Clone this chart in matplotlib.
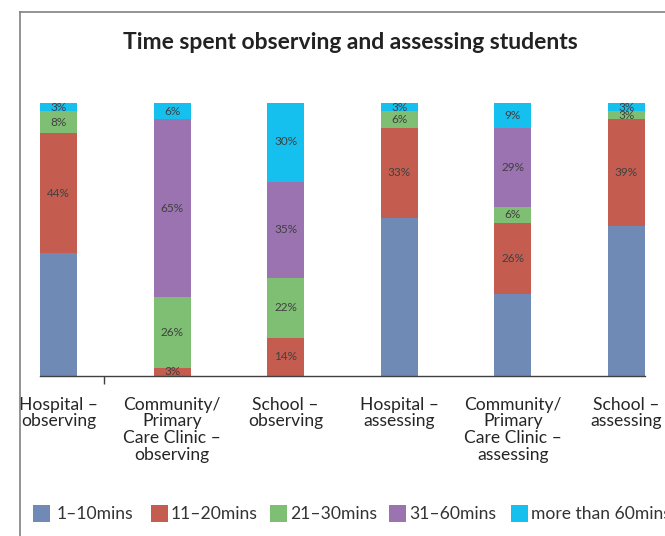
import matplotlib
matplotlib.use("Agg")
from matplotlib import pyplot as plt
from matplotlib.patches import Rectangle
from matplotlib.lines import Line2D
import numpy as np

# Share of responses (%) per setting, stacked by time band
categories = ["Hospital \u2013\nobserving",
              "Community/\nPrimary\nCare Clinic \u2013\nobserving",
              "School \u2013\nobserving",
              "Hospital \u2013\nassessing",
              "Community/\nPrimary\nCare Clinic \u2013\nassessing",
              "School \u2013\nassessing"]
series_names = ["1\u201310mins", "11\u201320mins", "21\u201330mins", "31\u201360mins", "more than 60mins"]
mins_1_10 = [45, 0, 0, 58, 30, 55]
mins_11_20 = [44, 3, 14, 33, 26, 39]
mins_21_30 = [8, 26, 22, 6, 6, 3]
mins_31_60 = [0, 65, 35, 0, 29, 0]
mins_60_plus = [3, 6, 30, 3, 9, 3]

colors = ["#6f8bb5", "#c45d50", "#7fbf74", "#9a73b0", "#15c0ef"]

plt.rcParams['font.family'] = ['Lato', 'DejaVu Sans']

W, H = 665, 536
fig = plt.figure(figsize=(W / 100, H / 100), dpi=100)
ax = fig.add_axes([40 / W, 1 - 376 / H, 605 / W, 273 / H])

x = np.arange(len(categories))
bar_w = 0.326
bottom = np.zeros(len(categories))
all_series = [mins_1_10, mins_11_20, mins_21_30, mins_31_60, mins_60_plus]
for i, vals in enumerate(all_series):
    vals = np.array(vals, dtype=float)
    ax.bar(x, vals, bar_w, bottom=bottom, color=colors[i], linewidth=0)
    # value labels on every segment except the bottom band
    if i > 0:
        for xi, v, b in zip(x, vals, bottom):
            if v > 0:
                ax.text(xi, b + v / 2, "%d%%" % v, ha="center", va="center",
                        fontsize=8.5, color="#404040")
    bottom += vals

ax.set_xlim(-0.163, 5.163)
ax.set_ylim(0, 100)
for s in ["top", "right", "left"]:
    ax.spines[s].set_visible(False)
ax.spines["bottom"].set_color("#404040")
ax.spines["bottom"].set_linewidth(1.0)
ax.set_yticks([])
ax.set_xticks(x)
ax.set_xticklabels(categories, fontsize=12.6, color="#262626", linespacing=1.05)
ax.tick_params(axis="x", which="major", length=0, pad=15)
ax.set_xticks([0.40], minor=True)
ax.tick_params(axis="x", which="minor", length=6, width=1, color="#404040")

fig.text(350 / W, 1 - 42 / H, "Time spent observing and assessing students",
         ha="center", va="center", fontsize=16.5, fontweight="bold", color="#222222")

# chart border (top and left edges)
fig.add_artist(Line2D([20 / W, 20 / W], [0, 1 - 12 / H], transform=fig.transFigure,
                      color="#808080", linewidth=1.2))
fig.add_artist(Line2D([20 / W, 1], [1 - 12 / H, 1 - 12 / H], transform=fig.transFigure,
                      color="#808080", linewidth=1.2))

# legend row
leg_x = [33, 151, 270, 389, 511]
txt_off = [24, 20, 20, 20, 20]
for i, name in enumerate(series_names):
    fig.add_artist(Rectangle((leg_x[i] / W, 1 - 522 / H), 17 / W, 17 / H,
                             transform=fig.transFigure, color=colors[i], linewidth=0))
    fig.text((leg_x[i] + txt_off[i]) / W, 1 - 514 / H, name, ha="left", va="center",
             fontsize=12.6, color="#333333")

fig.savefig("out.png", dpi=100)
